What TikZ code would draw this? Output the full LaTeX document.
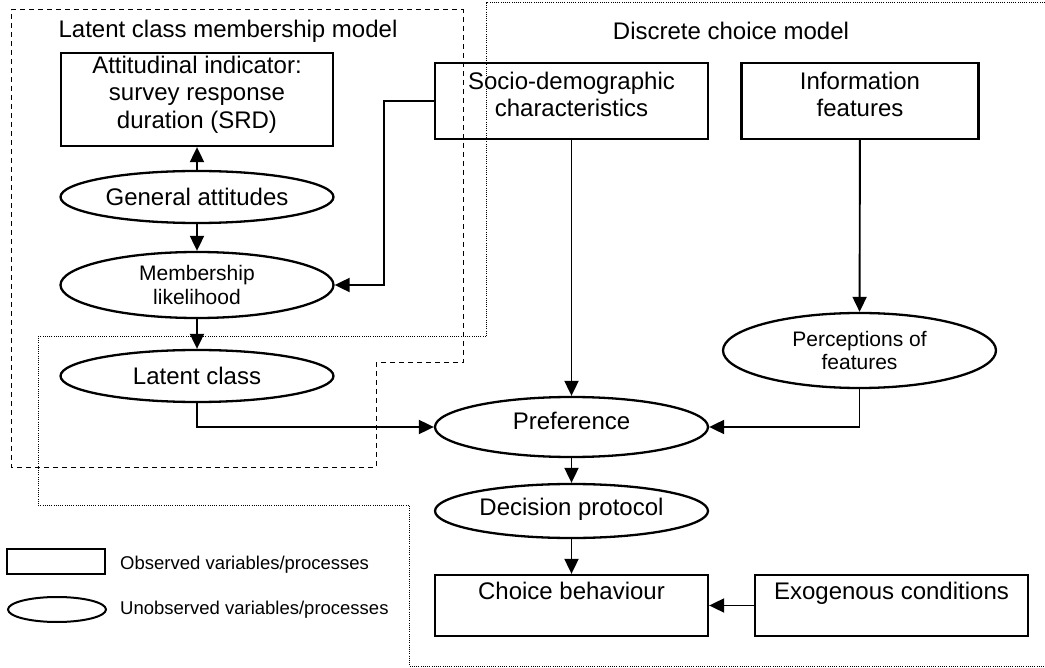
\documentclass[tikz,border=0pt]{standalone}
\usepackage{fontspec}
\setmainfont{Liberation Sans}
\usetikzlibrary{shapes.geometric,arrows.meta}

\tikzset{
  obsbox/.style={draw, line width=2.3pt, rectangle, inner sep=0pt, align=center,
    font=\fontsize{24}{27.6}\selectfont},
  unobs/.style={draw, line width=2.3pt, ellipse, inner sep=0pt, align=center,
    minimum width=273pt, font=\fontsize{24}{27.6}\selectfont},
  smalltext/.style={font=\fontsize{21}{23.5}\selectfont},
  conn/.style={line width=1.9pt, -{Triangle[length=15pt,width=14pt]}},
  legendtext/.style={anchor=west, inner sep=0pt, font=\fontsize{18.5}{22}\selectfont},
}

\begin{document}
\begin{tikzpicture}[x=1pt,y=-1pt]
  \useasboundingbox (0,0) rectangle (1045,668);

  % model boundaries
  \draw[line width=1pt, dash pattern=on 5pt off 4pt]
    (11,10) -- (463,10) -- (463,363) -- (376,363) -- (376,467) -- (11,467) -- cycle;
  \draw[line width=1pt, dash pattern=on 1pt off 1.2pt]
    (1045,3) -- (486,3) -- (486,337) -- (38,337) -- (38,505) -- (409,505) -- (409,666) -- (1045,666);
  \node[font=\fontsize{24}{27.6}\selectfont] (lcmTitle) at (228,31) {Latent class membership model};
  \node[font=\fontsize{24}{27.6}\selectfont] (dcmTitle) at (731,31) {Discrete choice model};

  % observed
  \node[obsbox, minimum width=272pt, text height=75.5pt, text depth=17.5pt] (srd) at (197,99.5)
    {Attitudinal indicator:\\survey response\\duration (SRD)};
  \node[obsbox, minimum width=273pt, text height=54pt, text depth=22pt] (socio) at (571.5,101)
    {Socio-demographic\\characteristics};
  \node[obsbox, minimum width=237pt, text height=54pt, text depth=22pt] (info) at (860,101)
    {Information\\features};
  \node[obsbox, minimum width=273pt, text height=24pt, text depth=37pt] (choice) at (571.5,605.5)
    {Choice behaviour};
  \node[obsbox, minimum width=273pt, text height=24pt, text depth=37pt] (exog) at (891.5,605.5)
    {Exogenous conditions};

  % unobserved
  \node[unobs, minimum height=52pt] (attit) at (197,197) {General attitudes};
  \node[unobs, smalltext, minimum height=66pt] (member) at (197,285) {Membership\\likelihood};
  \node[unobs, minimum height=52pt] (latent) at (197,376) {Latent class};
  \node[unobs, smalltext, minimum height=75pt] (percep) at (859.5,350.5) {Perceptions of\\features};
  \node[unobs, minimum height=60pt, text depth=12pt] (pref) at (571.5,427) {Preference};
  \node[unobs, minimum height=54pt, text depth=9pt] (protocol) at (571.5,511) {Decision protocol};

  % connectors
  \draw[conn] (attit) -- (srd);
  \draw[conn] (attit) -- (member);
  \draw[conn] (member) -- (latent);
  \draw[conn] (socio.west) -- ++(-50,0) |- (member.east);
  \draw[conn] (latent.south) |- (pref.west);
  \draw[conn] (socio) -- (pref);
  \draw[conn] (info) -- (percep);
  \draw[conn] (percep.south) |- (pref.east);
  \draw[conn] (pref) -- (protocol);
  \draw[conn] (protocol) -- (choice);
  \draw[conn] (exog) -- (choice);

  % legend
  \node[draw, line width=2pt, minimum width=98pt, minimum height=25pt, inner sep=0pt] (keyObs) at (56,561.5) {};
  \node[legendtext] (keyObsText) at (120,565) {Observed variables/processes};
  \node[draw, line width=2pt, ellipse, minimum width=98pt, minimum height=25pt, inner sep=0pt] (keyUnobs) at (57,609.5) {};
  \node[legendtext] (keyUnobsText) at (120,610) {Unobserved variables/processes};
\end{tikzpicture}
\end{document}
